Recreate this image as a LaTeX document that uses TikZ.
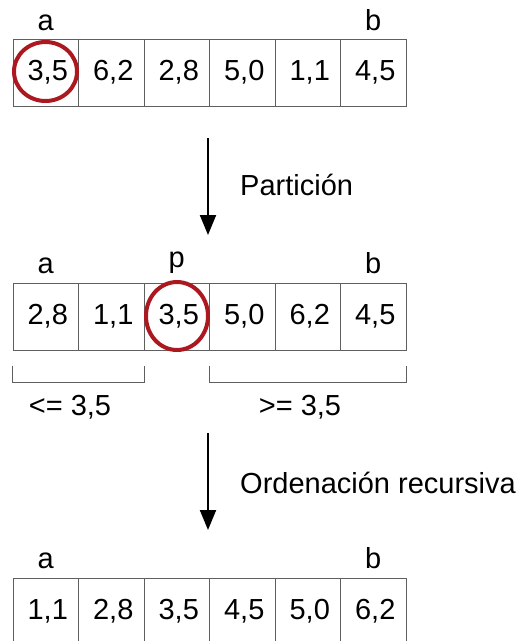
\documentclass[tikz,border=0pt]{standalone}
\usepackage{fontspec}
\setmainfont{Liberation Sans}
\usetikzlibrary{arrows.meta,shapes.geometric}
\definecolor{rojo}{RGB}{172,24,32}
\definecolor{borde}{RGB}{95,95,95}
\tikzset{
  celda/.style={draw=borde, line width=1pt, minimum width=65.5pt, minimum height=67pt, inner sep=0pt, font=\fontsize{29}{34}\selectfont},
  etiq/.style={anchor=base, inner sep=0pt, font=\fontsize{29}{34}\selectfont},
  texto/.style={inner sep=0pt, font=\fontsize{29}{34}\selectfont},
  pivote/.style={draw=rojo, line width=4pt, ellipse, inner sep=0pt},
  flecha/.style={line width=2pt, -{Triangle[width=16pt,length=20pt]}},
  llave/.style={draw=borde, line width=1pt}
}
\begin{document}
\begin{tikzpicture}[x=1pt,y=-1pt]  %Coordenadas en pixeles
	\useasboundingbox (0,0) rectangle (517,641);
	\clip (0,0) rectangle (517,641);
		%Vector inicial
	\foreach \e/\d [count=\i] in {3/5,6/2,2/8,5/0,1/1,4/5}
		\node[celda] (t\i) at (13+65.5*\i-32.75,72.5) {\hspace{4pt}\e,\d};
	\node[etiq] (ta) at (45.75,30) {a};
	\node[etiq] (tb) at (373.25,30) {b};
	\node[pivote, minimum width=63pt, minimum height=59pt] (tc) at (45.5,71.5) {};

		%Flecha particion
	\coordinate (p1) at (208,138);
	\coordinate (p2) at (208,235);
	\draw[flecha] (p1) -- (p2);
	\node[texto, anchor=base west] (part) at (240,195) {Partición};

		%Vector particionado
	\foreach \e/\d [count=\i] in {2/8,1/1,3/5,5/0,6/2,4/5}
		\node[celda] (m\i) at (13+65.5*\i-32.75,316.5) {\hspace{4pt}\e,\d};
	\node[etiq] (ma) at (45.75,273) {a};
	\node[etiq] (mp) at (176.75,267) {p};
	\node[etiq] (mb) at (373.25,273) {b};
	\node[pivote, minimum width=62pt, minimum height=68pt] (mc) at (177,316) {};

		%Llaves
	\draw[llave] ([yshift=-15pt]m1.south west) -- ([yshift=-32pt]m1.south west) -- ([yshift=-32pt]m2.south east) -- ([yshift=-15pt]m2.south east);
	\draw[llave] ([yshift=-15pt]m4.south west) -- ([yshift=-32pt]m4.south west) -- ([yshift=-32pt]m6.south east) -- ([yshift=-15pt]m6.south east);
	\node[texto, anchor=base] (menor) at (70,415) {<= 3,5};
	\node[texto, anchor=base] (mayor) at (300,415) {>= 3,5};

		%Flecha ordenacion
	\coordinate (o1) at (208,433);
	\coordinate (o2) at (208,530);
	\draw[flecha] (o1) -- (o2);
	\node[texto, anchor=base west] (orden) at (240,493) {Ordenación recursiva};

		%Vector ordenado
	\foreach \e/\d [count=\i] in {1/1,2/8,3/5,4/5,5/0,6/2}
		\node[celda] (f\i) at (13+65.5*\i-32.75,611.5) {\hspace{4pt}\e,\d};
	\node[etiq] (fa) at (45.75,568) {a};
	\node[etiq] (fb) at (373.25,568) {b};
\end{tikzpicture}
\end{document}
